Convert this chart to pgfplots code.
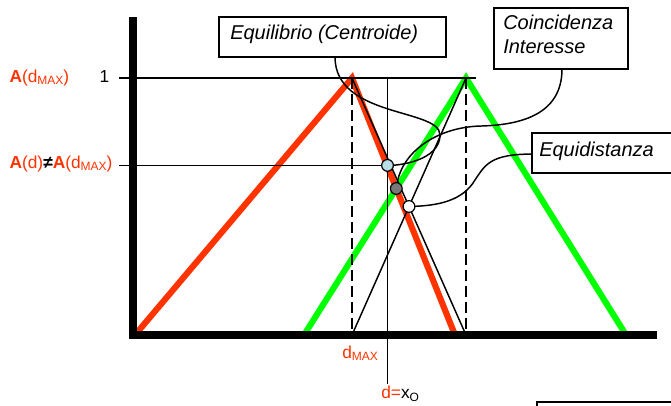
\documentclass[border=0pt]{standalone}
\usepackage{pgfplots}
\pgfplotsset{compat=1.18}
\usepackage{fontspec}
\setmainfont{Liberation Sans}
\definecolor{rd}{RGB}{255,51,0}
\definecolor{gr}{RGB}{0,255,0}
\definecolor{lb}{RGB}{185,222,230}
\definecolor{gy}{RGB}{120,120,120}
\newcommand{\sub}[1]{\raisebox{-0.3ex}{\fontsize{9}{9}\selectfont #1}}
\begin{document}
\begin{tikzpicture}
\begin{axis}[x=75pt, y=192.75pt, xmin=-1.33, xmax=5.38, ymin=-0.2724, ymax=1.3035,
  hide axis, clip=false, enlargelimits=false]
% triangles
\addplot[rd, line width=4.6pt, mark=none] coordinates {(0.02,0) (2.19,1) (3.22,0)};
\addplot[gr, line width=4.6pt, mark=none] coordinates {(1.71,0) (3.33,1) (4.93,0)};
% reference lines
\addplot[black, line width=1.1pt, mark=none] coordinates {(-0.14,1) (3.43,1)};
\addplot[black, line width=1.1pt, mark=none] coordinates {(-0.14,0.66) (2.54,0.66)};
\addplot[black, line width=1.1pt, mark=none] coordinates {(2.545,1) (2.545,-0.19)};
\addplot[black, line width=1.1pt, dash pattern=on 8pt off 4pt, mark=none] coordinates {(2.19,1) (2.19,0)};
\addplot[black, line width=1.1pt, dash pattern=on 8pt off 4pt, mark=none] coordinates {(3.33,1) (3.33,0)};
\addplot[black, line width=1.1pt, mark=none] coordinates {(2.19,0) (3.33,1)};
\addplot[black, line width=1.1pt, mark=none] coordinates {(2.19,1) (3.33,0)};
% axes bars
\addplot[black, line width=5.3pt, mark=none] coordinates {(0,-0.015) (0,1.237)};
\addplot[black, line width=5.3pt, mark=none] coordinates {(-0.035,0) (5.24,0)};
% callout boxes
\draw[line width=1.1pt, fill=white] (axis cs:0.86,1.082) rectangle (axis cs:3.13,1.237);
\draw[line width=1.1pt, fill=white] (axis cs:3.61,1.035) rectangle (axis cs:4.95,1.272);
\draw[line width=1.1pt, fill=white] (axis cs:3.99,0.630) rectangle (axis cs:5.6,0.786);
\draw[line width=1.1pt, fill=white] (axis cs:4.04,-0.261) rectangle (axis cs:5.6,-0.5);
% callout pointers
\draw[line width=1.1pt] (axis cs:2.02,1.082) .. controls (axis cs:2.02,0.844) and (axis cs:3.07,0.883) .. (axis cs:3.07,0.778)
  .. controls (axis cs:3.07,0.681) and (axis cs:2.67,0.658) .. (axis cs:2.545,0.66);
\draw[line width=1.1pt] (axis cs:4.29,1.035) .. controls (axis cs:4.29,0.856) and (axis cs:3.87,0.817) .. (axis cs:3.47,0.813)
  .. controls (axis cs:3.07,0.809) and (axis cs:2.67,0.720) .. (axis cs:2.633,0.570);
\draw[line width=1.1pt] (axis cs:3.99,0.704) .. controls (axis cs:3.57,0.704) and (axis cs:3.52,0.661) .. (axis cs:3.42,0.603)
  .. controls (axis cs:3.30,0.525) and (axis cs:3.07,0.502) .. (axis cs:2.76,0.5);
% points
\addplot[only marks, mark=*, mark size=4.4pt, mark options={fill=lb, draw=black, line width=0.9pt}] coordinates {(2.545,0.66)};
\addplot[only marks, mark=*, mark size=4.4pt, mark options={fill=gy, draw=black, line width=0.9pt}] coordinates {(2.633,0.570)};
\addplot[only marks, mark=*, mark size=4.4pt, mark options={fill=white, draw=black, line width=0.9pt}] coordinates {(2.76,0.5)};
% texts
\node[anchor=base west, inner sep=0pt, font=\fontsize{15}{18}\selectfont\itshape] at (axis cs:0.97,1.1506) {Equilibrio (Centroide)};
\node[anchor=base west, inner sep=0pt, font=\fontsize{15}{18}\selectfont\itshape] at (axis cs:3.70,1.187) {Coincidenza};
\node[anchor=base west, inner sep=0pt, font=\fontsize{15}{18}\selectfont\itshape] at (axis cs:3.70,1.097) {Interesse};
\node[anchor=base west, inner sep=0pt, font=\fontsize{15}{18}\selectfont\itshape] at (axis cs:4.06,0.693) {Equidistanza};
\node[anchor=base west, inner sep=0pt, font=\fontsize{13}{15}\selectfont, text=rd] at (axis cs:-1.237,0.984) {\textbf{A}(d\sub{MAX})};
\node[anchor=base east, inner sep=0pt, font=\fontsize{13}{15}\selectfont] at (axis cs:-0.235,0.984) {1};
\node[anchor=base west, inner sep=0pt, font=\fontsize{13}{15}\selectfont, text=rd] at (axis cs:-1.237,0.649) {\textbf{A}(d)\textcolor{black}{\textbf{≠}}\textbf{A}(d\sub{MAX})};
\node[anchor=base west, inner sep=0pt, font=\fontsize{13}{15}\selectfont, text=rd] at (axis cs:2.09,-0.0895) {d\sub{MAX}};
\node[anchor=base west, inner sep=0pt, font=\fontsize{13}{15}\selectfont, text=rd] at (axis cs:2.48,-0.249) {d=\textcolor{black}{x\sub{O}}};
\coordinate (BL) at (axis cs:-1.33,-0.2724);
\coordinate (TR) at (axis cs:5.38,1.3035);
\end{axis}
\pgfresetboundingbox
\useasboundingbox (BL) rectangle (TR);
\end{tikzpicture}
\end{document}
